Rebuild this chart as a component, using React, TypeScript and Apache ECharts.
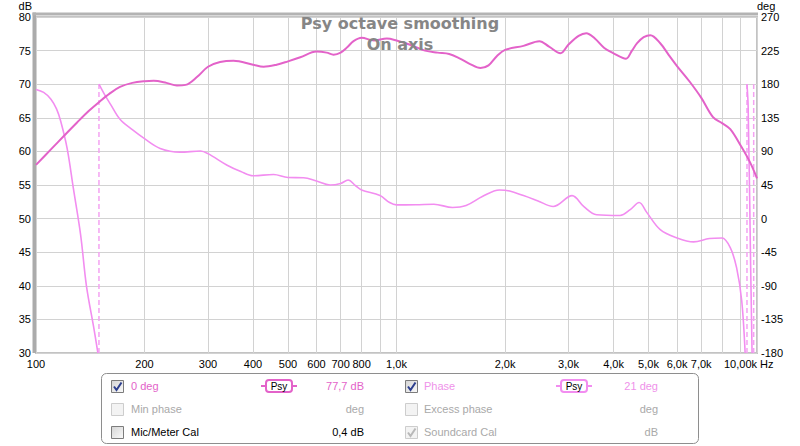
import React, { useEffect, useRef } from "react";
import * as echarts from "echarts";

// ---------- data ----------
const magFreq = [100, 110, 120, 130, 140, 150, 160, 171, 185, 200, 212, 230, 246, 260, 280, 300, 324, 353, 400, 428, 465, 500, 541, 600, 640, 669, 700, 730, 760, 800, 866, 940, 1000, 1100, 1200, 1300, 1400, 1500, 1600, 1710, 1800, 1900, 2000, 2250, 2490, 2650, 2850, 3000, 3200, 3360, 3550, 3770, 4000, 4330, 4500, 4650, 4850, 5060, 5390, 5700, 6000, 6500, 7000, 7550, 8000, 8430, 9000, 9560, 10000];
const magDb = [58.0, 60.3, 62.4, 64.3, 66.0, 67.4, 68.6, 69.6, 70.2, 70.45, 70.5, 70.2, 69.8, 69.9, 71.1, 72.6, 73.3, 73.5, 72.9, 72.6, 72.9, 73.4, 74.0, 74.85, 74.7, 74.4, 74.7, 75.5, 76.4, 76.9, 76.5, 76.8, 76.5, 75.8, 75.0, 74.7, 74.5, 73.8, 73.0, 72.4, 72.8, 74.2, 75.1, 75.7, 76.4, 75.6, 74.6, 75.9, 77.2, 77.6, 76.8, 75.4, 74.6, 73.8, 75.0, 76.1, 77.0, 77.3, 76.1, 74.3, 72.7, 70.4, 68.0, 65.1, 64.2, 63.3, 60.9, 58.4, 56.0];

const phaseLowFreq = [100, 105, 110, 114, 117, 122, 127, 133, 138, 144.5, 148.5];
const phaseLowDeg = [173, 169, 160, 147, 131, 94, 40, -22, -90, -145, -180];

const phaseMainFreq = [149.5, 155, 161, 171, 185, 200, 221, 251, 286, 300, 339, 370, 400, 456, 500, 552, 600, 654, 700, 734, 770, 800, 900, 957, 1000, 1130, 1270, 1430, 1560, 1730, 1930, 2060, 2250, 2460, 2720, 3070, 3310, 3590, 4170, 4450, 4710, 4950, 5390, 6000, 6670, 7380, 8000, 8430, 8780, 9070, 9270];
const phaseMainDeg = [180, 166, 153, 133, 119, 107, 94, 89, 90.5, 87, 71.5, 63, 57.3, 59.1, 55.1, 54.7, 50.3, 45, 47.1, 51.6, 44, 38.4, 30.8, 21.5, 18.4, 18.5, 19.2, 14.9, 17.5, 29.5, 38.4, 37, 30.8, 24, 16.2, 30.8, 16, 5.2, 4.2, 12, 21.5, 8, -14.8, -25.9, -31.2, -26.7, -26, -39, -66, -110, -180];

const phaseHiFreq = [9380, 9450, 9600, 9690];
const phaseHiDeg = [180, 150, -60, -180];

const phaseWrapFreq = [149.5, 9380, 9790];

const gridFreqs = [100, 200, 300, 400, 500, 600, 700, 800, 900, 1000, 2000, 3000, 4000, 5000, 6000, 7000, 8000, 9000, 10000];
const labelFreqs = [100, 200, 300, 400, 500, 600, 700, 800, 1000, 2000, 3000, 4000, 5000, 6000, 7000, 10000];
const labelTexts = ["100", "200", "300", "400", "500", "600", "700", "800", "1,0k", "2,0k", "3,0k", "4,0k", "5,0k", "6,0k", "7,0k", "10,00k"];

const legendLabels = [["0 deg", "Phase"], ["Min phase", "Excess phase"], ["Mic/Meter Cal", "Soundcard Cal"]];
const legendValues = [["77,7 dB", "21 deg"], ["deg", "deg"], ["0,4 dB", "dB"]];

// ---------- styles ----------
const MAG = "#e362c9";
const PH = "#f28df0";
const PH_TEXT = "#ef92ea";
const GRAY_TEXT = "#a9a9a9";
const FONT = "Liberation Sans, Arial, sans-serif";

type CellState = { checked: boolean; disabled: boolean; color: string; valColor: string; badge: string | null };
const legendState: CellState[][] = [
  [
    { checked: true, disabled: false, color: MAG, valColor: MAG, badge: MAG },
    { checked: true, disabled: false, color: PH_TEXT, valColor: PH_TEXT, badge: PH },
  ],
  [
    { checked: false, disabled: true, color: GRAY_TEXT, valColor: GRAY_TEXT, badge: null },
    { checked: false, disabled: true, color: GRAY_TEXT, valColor: GRAY_TEXT, badge: null },
  ],
  [
    { checked: false, disabled: false, color: "#000", valColor: "#000", badge: null },
    { checked: true, disabled: true, color: GRAY_TEXT, valColor: GRAY_TEXT, badge: null },
  ],
];

function txt(x: number, y: number, text: string, fill: string, align: string, font = `11px ${FONT}`) {
  return {
    type: "text",
    z: 10,
    style: { x, y, text, fill, font, align, textAlign: align, verticalAlign: "middle", textVerticalAlign: "middle" },
  };
}

function buildLegend() {
  const els: any[] = [];
  els.push({
    type: "rect",
    z: 5,
    shape: { x: 101.5, y: 373.5, width: 597, height: 70, r: 5 },
    style: { fill: "#fff", stroke: "#8e8e8e", lineWidth: 1 },
  });
  const rowY = [386, 409, 432];
  const boxX = [111, 405];
  const textX = [131, 424];
  const badgeX = [279, 574];
  const valX = [364, 658];
  for (let r = 0; r < 3; r++) {
    for (let c = 0; c < 2; c++) {
      const st = legendState[r][c];
      const y = rowY[r];
      const bx = boxX[c] + 0.5;
      const by = y - 6 + 0.5;
      els.push({
        type: "rect",
        z: 10,
        shape: { x: bx, y: by, width: 12, height: 12 },
        style: {
          fill: st.disabled
            ? "#f3f3f3"
            : new echarts.graphic.LinearGradient(0, 0, 1, 1, [
                { offset: 0, color: "#d4d4d4" },
                { offset: 1, color: "#fafafa" },
              ]),
          stroke: st.disabled ? "#cdcdcd" : "#7c7c7c",
          lineWidth: 1,
        },
      });
      if (st.checked) {
        els.push({
          type: "polyline",
          z: 11,
          shape: { points: [[bx + 2.5, by + 6], [bx + 5, by + 9.5], [bx + 10, by + 2]] },
          style: { stroke: st.disabled ? "#b8b8b8" : "#2d3f8e", lineWidth: 2, fill: null },
        });
      }
      els.push(txt(textX[c], y, legendLabels[r][c], st.color, "left"));
      els.push(txt(valX[c], y, legendValues[r][c], st.valColor, "right"));
      if (st.badge) {
        const cx = badgeX[c];
        els.push({
          type: "line",
          z: 10,
          shape: { x1: cx - 18, y1: y, x2: cx + 18, y2: y },
          style: { stroke: st.badge, lineWidth: 2 },
        });
        els.push({
          type: "rect",
          z: 11,
          shape: { x: cx - 13, y: y - 6, width: 26, height: 12, r: 3 },
          style: { fill: "#fff", stroke: st.badge, lineWidth: 2 },
        });
        els.push({ ...txt(cx, y, "Psy", "#000", "center", `10px ${FONT}`), z: 12 });
      }
    }
  }
  return els;
}

export default function App() {
  const ref = useRef<HTMLDivElement>(null);
  useEffect(() => {
    if (!ref.current) return;
    const chart = echarts.init(ref.current, null, { renderer: "svg" });

    const labelMap: Record<number, string> = {};
    labelFreqs.forEach((f, i) => (labelMap[f] = labelTexts[i]));

    const magData = magFreq.map((f, i) => [f, magDb[i]]);
    const phaseData: any[] = [
      ...phaseLowFreq.map((f, i) => [f, phaseLowDeg[i]]),
      [phaseLowFreq[phaseLowFreq.length - 1] + 0.5, "-"],
      ...phaseMainFreq.map((f, i) => [f, phaseMainDeg[i]]),
      [phaseMainFreq[phaseMainFreq.length - 1] + 5, "-"],
      ...phaseHiFreq.map((f, i) => [f, phaseHiDeg[i]]),
    ];
    const wrapData: any[] = [];
    phaseWrapFreq.forEach((f) => {
      wrapData.push([f, -180], [f, 180], [f, "-"]);
    });

    const gridLeft = 36;
    const gridTop = 14;
    const gridRight = 43;
    const gridBottom = 93;
    const plotW = 800 - gridLeft - gridRight;
    const plotH = 446 - gridTop - gridBottom;

    const frame = [
      {
        type: "rect",
        z: 1,
        shape: { x: gridLeft - 3.5, y: gridTop - 1.5, width: 3.5, height: plotH + 1.5 },
        style: { fill: "#ababab" },
      },
      {
        type: "rect",
        z: 1,
        shape: { x: gridLeft - 3.5, y: gridTop - 1.5, width: plotW + 4.5, height: 3 },
        style: { fill: "#b3b3b3" },
      },
    ];

    chart.setOption({
      animation: false,
      backgroundColor: "#ffffff",
      title: {
        text: "Psy octave smoothing",
        subtext: "On axis",
        left: "center",
        top: 13,
        padding: 0,
        itemGap: 0,
        textStyle: { fontFamily: "DejaVu Sans", fontWeight: "bold", fontSize: 16, color: "#868686", lineHeight: 21 },
        subtextStyle: { fontFamily: "DejaVu Sans", fontWeight: "bold", fontSize: 16, color: "#868686", lineHeight: 21 },
      },
      grid: {
        left: gridLeft,
        right: gridRight,
        top: gridTop,
        bottom: gridBottom,
        show: true,
        borderColor: "#c3c3c3",
        borderWidth: 2,
        backgroundColor: "#fff",
      },
      xAxis: {
        type: "log",
        logBase: 10,
        min: 100,
        max: 10000,
        position: "bottom",
        axisLine: { show: false, onZero: false },
        axisTick: { show: false, customValues: gridFreqs },
        axisLabel: {
          customValues: labelFreqs,
          formatter: (v: number) => labelMap[Math.round(v)] ?? "",
          fontSize: 11,
          fontFamily: FONT,
          color: "#000",
          margin: 5,
          alignMaxLabel: "right",
        },
        splitLine: { show: true, lineStyle: { color: "#d2d2d2", width: 1 } },
        name: "Hz",
        nameLocation: "end",
        nameGap: 3,
        nameMoveOverlap: false,
        nameTextStyle: { fontSize: 11, fontFamily: FONT, color: "#000", verticalAlign: "top", padding: [5, 0, 0, 0] },
      },
      yAxis: [
        {
          type: "value",
          min: 30,
          max: 80,
          interval: 5,
          axisLine: { show: false, onZero: false },
          axisTick: { show: false },
          axisLabel: { fontSize: 11, fontFamily: FONT, color: "#000", margin: 5 },
          splitLine: { show: true, lineStyle: { color: "#d2d2d2", width: 1 } },
          name: "dB",
          nameLocation: "end",
          nameGap: 6,
          nameMoveOverlap: false,
          nameTextStyle: { fontSize: 11, fontFamily: FONT, color: "#000", align: "right", verticalAlign: "bottom", lineHeight: 11, padding: [0, 4, 0, 0] },
        },
        {
          type: "value",
          min: -180,
          max: 270,
          interval: 45,
          axisLine: { show: false, onZero: false },
          axisTick: { show: false },
          axisLabel: { fontSize: 11, fontFamily: FONT, color: "#000", margin: 4 },
          splitLine: { show: false },
          name: "deg",
          nameLocation: "end",
          nameGap: 6,
          nameMoveOverlap: false,
          nameTextStyle: { fontSize: 11, fontFamily: FONT, color: "#000", align: "left", verticalAlign: "bottom", lineHeight: 11, padding: [0, 0, 0, 0] },
        },
      ],
      series: [
        {
          name: "Phase wrap",
          type: "line",
          yAxisIndex: 1,
          data: wrapData,
          showSymbol: false,
          connectNulls: false,
          lineStyle: { color: "#f4a2f2", width: 1.5, type: [5, 3] },
          z: 2,
        },
        {
          name: "Phase",
          type: "line",
          yAxisIndex: 1,
          data: phaseData,
          showSymbol: false,
          connectNulls: false,
          smooth: 0.35,
          lineStyle: { color: PH, width: 1.6 },
          z: 3,
        },
        {
          name: "0 deg",
          type: "line",
          yAxisIndex: 0,
          data: magData,
          showSymbol: false,
          smooth: 0.35,
          lineStyle: { color: MAG, width: 2 },
          z: 4,
        },
      ],
      graphic: { elements: [...frame, ...buildLegend()] },
    });
    return () => chart.dispose();
  }, []);
  return (
    <div
      ref={ref}
      style={{ position: "fixed", left: 0, top: 0, width: 800, height: 446, background: "#fff" }}
    />
  );
}
